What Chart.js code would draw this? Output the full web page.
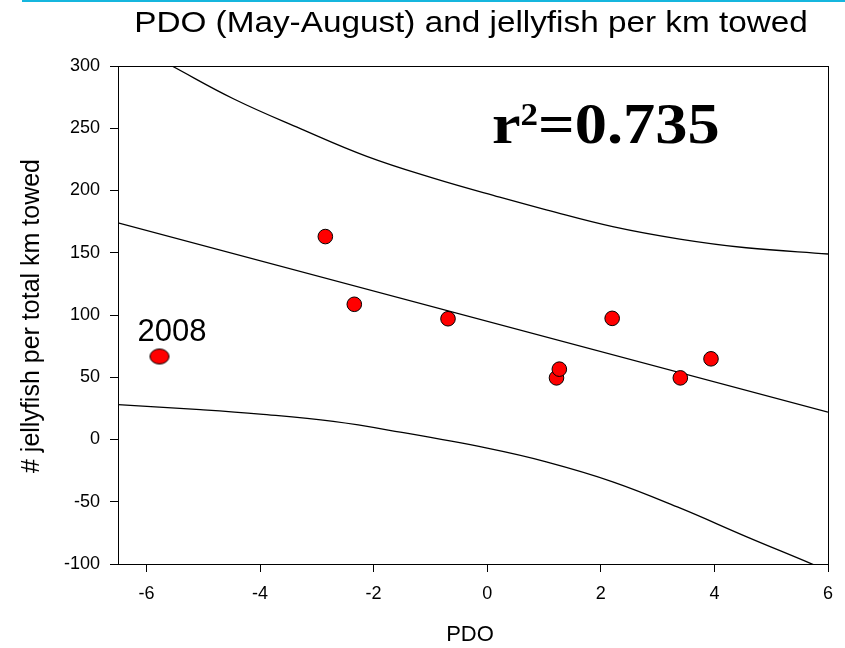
<!DOCTYPE html>
<html>
<head>
<meta charset="utf-8">
<script src="https://cdn.jsdelivr.net/npm/chart.js@4.4.1/dist/chart.umd.min.js"></script>
<style>
  html, body { margin: 0; padding: 0; background: #fff; }
  #wrap { position: relative; width: 845px; height: 648px; }
  #topline { position: absolute; left: 22px; top: 0; width: 823px; height: 2px; background: #15b6de; }
  canvas { display: block; }
</style>
</head>
<body>
<div id="wrap">
  <canvas id="chart" width="845" height="648" style="width:845px;height:648px"></canvas>
  <div id="topline"></div>
</div>
<script>
// observed years
const pdo = [-2.85, -2.34, -0.69, 1.22, 1.27, 2.20, 3.40, 3.94];
const jellyfish = [163, 108.6, 97, 49.5, 56.5, 97.3, 49.5, 64.8];

// 2008 outlier
const pdo2008 = [-5.77];
const jelly2008 = [66.7];

// regression line
const fitX = [-6.5, 6];
const fitY = [174, 22];

// upper / lower 95% bands
const upperX = [-5.55, -4.46, -3.29, -2.12, -0.95, 0.22, 1.04, 2.21, 3.39, 4.56, 6.0];
const upperY = [300, 273.5, 249.7, 227.4, 209.9, 194.6, 184.5, 171, 161, 154, 149];
const lowerX = [-6.5, -5.05, -4.0, -2.71, -1.53, 0.0, 1.04, 2.21, 3.39, 4.56, 5.82, 6.0];
const lowerY = [28, 24, 20.4, 14.5, 5.9, -7, -18, -34, -55, -78, -102, -106];

const xTicks = [-6, -4, -2, 0, 2, 4, 6];
const yTicks = [-100, -50, 0, 50, 100, 150, 200, 250, 300];

const titleText = 'PDO (May-August) and jellyfish per km towed';
const xTitle = 'PDO';
const yTitle = '# jellyfish per total km towed';

function pairs(xs, ys) {
    return xs.map((v, i) => ({ x: v, y: ys[i] }));
}

// ellipse marker for the 2008 point
function ellipseMarker() {
    const c = document.createElement('canvas');
    c.width = 22;
    c.height = 18;
    const g = c.getContext('2d');
    g.beginPath();
    g.ellipse(11, 9, 9.5, 7.5, 0, 0, Math.PI * 2);
    g.fillStyle = '#ff0000';
    g.fill();
    g.lineWidth = 1;
    g.strokeStyle = '#000';
    g.stroke();
    return c;
}

const lineStyle = {
    showLine: true,
    borderColor: '#000',
    borderWidth: 1.3,
    pointRadius: 0,
    fill: false,
    clip: 0,
    tension: 0.4
};

const textPlugin = {
    id: 'texts',
    afterDraw(chart) {
        const { ctx, chartArea: a, scales } = chart;
        ctx.save();

        // frame
        ctx.strokeStyle = '#000';
        ctx.lineWidth = 1;
        ctx.strokeRect(Math.round(a.left) + 0.5, Math.round(a.top) + 0.5,
            Math.round(a.right - a.left), Math.round(a.bottom - a.top));

        ctx.fillStyle = '#000';

        // title
        ctx.save();
        ctx.font = '30px "Liberation Sans", Arial, sans-serif';
        ctx.textAlign = 'center';
        ctx.textBaseline = 'alphabetic';
        ctx.translate(471, 32);
        ctx.scale(1.11, 1);
        ctx.fillText(titleText, 0, 0);
        ctx.restore();

        // axis titles
        ctx.font = '22px "Liberation Sans", Arial, sans-serif';
        ctx.textAlign = 'center';
        ctx.fillText(xTitle, 470, 641);

        ctx.save();
        ctx.font = '25px "Liberation Sans", Arial, sans-serif';
        ctx.translate(39, 316);
        ctx.rotate(-Math.PI / 2);
        ctx.fillText(yTitle, 0, 0);
        ctx.restore();

        // 2008 label
        ctx.font = '31px "Liberation Sans", Arial, sans-serif';
        ctx.textAlign = 'left';
        const px = scales.x.getPixelForValue(pdo2008[0]);
        const py = scales.y.getPixelForValue(jelly2008[0]);
        ctx.fillText('2008', px - 22, py - 15);

        // r^2 annotation
        ctx.save();
        ctx.translate(492, 143);
        ctx.scale(1.13, 1);
        ctx.textAlign = 'left';
        ctx.font = 'bold 57px "Liberation Serif", "Times New Roman", serif';
        ctx.fillText('r', 0, 0);
        let off = ctx.measureText('r').width;
        ctx.font = 'bold 31px "Liberation Serif", "Times New Roman", serif';
        ctx.fillText('2', off, -18);
        off += ctx.measureText('2').width;
        ctx.font = 'bold 57px "Liberation Serif", "Times New Roman", serif';
        ctx.fillText('=0.735', off, 0);
        ctx.restore();

        ctx.restore();
    }
};

const axisFont = { family: '"Liberation Sans", Arial, sans-serif', size: 18 };

const chart = new Chart(document.getElementById('chart').getContext('2d'), {
    type: 'scatter',
    data: {
        datasets: [
            {
                data: pairs(pdo, jellyfish),
                backgroundColor: '#ff0000',
                borderColor: '#000',
                borderWidth: 1,
                pointRadius: 7.3
            },
            {
                data: pairs(pdo2008, jelly2008),
                pointStyle: ellipseMarker(),
                pointRadius: 10
            },
            { ...lineStyle, data: pairs(fitX, fitY), tension: 0 },
            { ...lineStyle, data: pairs(upperX, upperY) },
            { ...lineStyle, data: pairs(lowerX, lowerY) }
        ]
    },
    options: {
        responsive: false,
        animation: false,
        layout: { padding: { top: 66, right: 17, left: 0, bottom: 0 } },
        plugins: {
            legend: { display: false },
            tooltip: { enabled: false },
            title: { display: false }
        },
        scales: {
            x: {
                type: 'linear',
                min: -6.5,
                max: 6,
                afterBuildTicks: (s) => { s.ticks = xTicks.map(v => ({ value: v })); },
                afterFit: (s) => { s.height = 84; },
                grid: { drawOnChartArea: false, tickLength: 8, color: '#000' },
                border: { color: '#000', width: 1 },
                ticks: { color: '#000', font: axisFont, padding: 11, maxRotation: 0, autoSkip: false }
            },
            y: {
                type: 'linear',
                min: -100,
                max: 300,
                afterBuildTicks: (s) => { s.ticks = yTicks.map(v => ({ value: v })); },
                afterFit: (s) => { s.width = 118; },
                grid: { drawOnChartArea: false, tickLength: 8, color: '#000' },
                border: { color: '#000', width: 1 },
                ticks: { color: '#000', font: axisFont, padding: 10, autoSkip: false }
            }
        }
    },
    plugins: [textPlugin]
});
</script>
</body>
</html>
